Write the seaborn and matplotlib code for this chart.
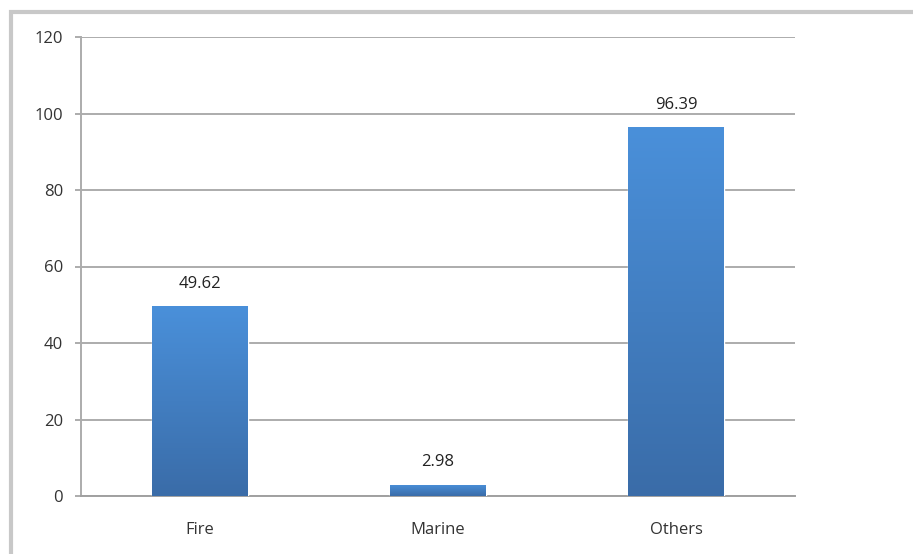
import numpy as np
import pandas as pd
import matplotlib
matplotlib.use("Agg")
import matplotlib.pyplot as plt
from matplotlib.patches import Rectangle
from matplotlib.colors import LinearSegmentedColormap
import seaborn as sns

categories = ["Fire", "Marine", "Others"]
values = [49.62, 2.98, 96.39]
value_labels = ["49.62", "2.98", "96.39"]
yticks = [0, 20, 40, 60, 80, 100, 120]

sns.set_theme(style="white")
plt.rcParams['font.family'] = ['Open Sans', 'DejaVu Sans']

fig = plt.figure(figsize=(9.13, 5.54), dpi=100)
fig.patch.set_facecolor("white")
ax = fig.add_axes([81/913, 1-496/554, (795-81)/913, (496-37)/554])

df = pd.DataFrame({"cat": categories, "val": values})
sns.barplot(data=df, x="cat", y="val", ax=ax, color="#3f7fc6", width=0.40,
            saturation=1, zorder=3)

ax.set_ylim(0, 120)
ax.set_xlim(-0.5, 2.5)
ax.set_yticks(yticks)
ax.set_yticklabels([str(t) for t in yticks], fontsize=12, color="#333333")
ax.set_xticklabels(categories, fontsize=12, color="#333333")
ax.set_xlabel("")
ax.set_ylabel("")

# gridlines
ax.yaxis.grid(True, color="#acacac", linewidth=1.4, zorder=0)
ax.set_axisbelow(True)
for s in ["top", "right"]:
    ax.spines[s].set_visible(False)
ax.spines["left"].set_color("#acacac")
ax.spines["left"].set_linewidth(1.4)
ax.spines["bottom"].set_color("#a0a0a0")
ax.spines["bottom"].set_linewidth(1.4)
ax.tick_params(axis="y", which="major", left=True, length=4, width=1.4,
               color="#acacac", pad=9)
ax.tick_params(axis="x", bottom=False, pad=13)

# gradient fill on bars
cmap = LinearSegmentedColormap.from_list("g", ["#3a6ca8", "#4a90da"])
grad = np.linspace(0, 1, 256).reshape(-1, 1)
for bar in ax.patches:
    x0, y0 = bar.get_x(), bar.get_y()
    w, h = bar.get_width(), bar.get_height()
    im = ax.imshow(grad, extent=[x0, x0 + w, y0, y0 + h], origin="lower",
                   cmap=cmap, aspect="auto", zorder=3.5)
    im.set_clip_path(bar)
ax.set_xlim(-0.5, 2.5)
ax.set_ylim(0, 120)

for i, (v, lab) in enumerate(zip(values, value_labels)):
    ax.text(i, v + 3.8, lab, ha="center", va="bottom", fontsize=12,
            color="#222222", zorder=5)

# outer border
fig.patches.append(Rectangle((11/913, -0.1), 1.2, 1 - 12/554 + 0.1,
                             transform=fig.transFigure, fill=False,
                             edgecolor="#c8c8c8", linewidth=3, zorder=0))

fig.savefig("out.png", dpi=100)
